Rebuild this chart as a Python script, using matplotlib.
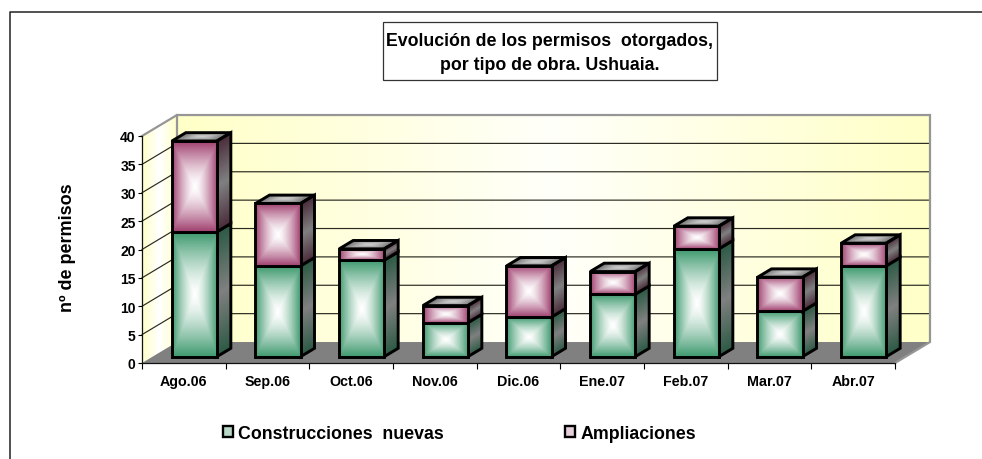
import numpy as np
import matplotlib
matplotlib.use('Agg')
from matplotlib import pyplot as plt
from matplotlib.patches import Polygon, Rectangle
from matplotlib.transforms import Affine2D

meses = ['Ago.06', 'Sep.06', 'Oct.06', 'Nov.06', 'Dic.06', 'Ene.07', 'Feb.07', 'Mar.07', 'Abr.07']
nuevas = [22, 16, 17, 6, 7, 11, 19, 8, 16]
ampliaciones = [16, 11, 2, 3, 9, 4, 4, 6, 4]
yticks = [0, 5, 10, 15, 20, 25, 30, 35, 40]

W, H = 982, 460
# depth of the fake 3d box, in axis units
DX = 35 / 83.67
DY = 21 / 5.68
BAR_W = 0.538
D0, D1 = 0.3, 0.7

plt.rcParams['font.family'] = ['Liberation Sans', 'DejaVu Sans']
plt.rcParams['font.weight'] = 'bold'

fig = plt.figure(figsize=(W / 100, H / 100), dpi=100)
ax = fig.add_axes([142 / W, 1 - 364 / H, 753 / W, 227 / H])
ax.autoscale(False)
ax.set_xlim(0, len(meses))
ax.set_ylim(0, 40)
ax.patch.set_visible(False)


def px_box(x, y, w, h, **kw):
    fig.add_artist(Rectangle((x / W, 1 - (y + h) / H), w / W, h / H, transform=fig.transFigure, **kw))


def proj(x, y, d):
    return x + d * DX, y + d * DY


def face(p0, pu, pv, edge, center, mode='box', z=3):
    # gradient image mapped onto a parallelogram p0, p0+pu, p0+pv
    u, v = np.meshgrid(np.linspace(0, 1, 80), np.linspace(0, 1, 80))
    if mode == 'box':
        t = np.maximum(np.abs(2 * u - 1), np.abs(2 * v - 1)) ** 1.4
    elif mode == 'across':
        t = np.abs(2 * u - 1)
    else:
        t = np.abs(2 * v - 1)
    edge = np.array(matplotlib.colors.to_rgb(edge))
    center = np.array(matplotlib.colors.to_rgb(center))
    img = center + (edge - center) * t[..., None]
    img = np.dstack([img, np.ones(t.shape)])
    tr = Affine2D.from_values(pu[0], pu[1], pv[0], pv[1], p0[0], p0[1]) + ax.transData
    im = ax.imshow(img, extent=(0, 1, 0, 1), origin='lower', aspect='auto', interpolation='bilinear',
                   transform=tr, zorder=z)
    corners = [p0, (p0[0] + pu[0], p0[1] + pu[1]), (p0[0] + pu[0] + pv[0], p0[1] + pu[1] + pv[1]),
               (p0[0] + pv[0], p0[1] + pv[1])]
    im.set_clip_path(Polygon(corners, closed=True, transform=ax.transData))
    im.set_clip_box(fig.bbox)


def outline(points, z, lw=2.1, ec='black', fc='none'):
    ax.add_patch(Polygon(points, closed=True, fc=fc, ec=ec, lw=lw, clip_on=False, zorder=z, joinstyle='miter'))


def bar_segment(i, bottom, height, front_edge, side_edge, z, top=False):
    x0 = i + 0.5 - BAR_W / 2
    x1 = x0 + BAR_W
    fx, fy = proj(x0, bottom, D0)
    fx1, _ = proj(x1, bottom, D0)
    bd = (D1 - D0) * DX, (D1 - D0) * DY
    # side
    face((fx1, fy), bd, (0, height), side_edge, '#808080', 'along', z)
    outline([(fx1, fy), (fx1 + bd[0], fy + bd[1]), (fx1 + bd[0], fy + bd[1] + height), (fx1, fy + height)], z + 0.1)
    # top
    if top:
        face((fx, fy + height), (fx1 - fx, 0), bd, '#6a6a6a', '#cfcfcf', 'box', z)
        outline([(fx, fy + height), (fx1, fy + height), (fx1 + bd[0], fy + height + bd[1]),
                 (fx + bd[0], fy + height + bd[1])], z + 0.1)
    # front
    face((fx, fy), (fx1 - fx, 0), (0, height), front_edge, '#ffffff', 'box', z + 0.2)
    outline([(fx, fy), (fx1, fy), (fx1, fy + height), (fx, fy + height)], z + 0.3)


# walls and floor
n = len(meses)
face((DX, DY), (n, 0), (0, 40), '#ffffc8', '#fffffa', 'across', 1)
face((0, 0), (DX, DY), (0, 40), '#ffffc8', '#ffffff', 'across', 1)
ax.add_patch(Polygon([proj(0, 0, 0), proj(n, 0, 0), proj(n, 0, 1), proj(0, 0, 1)], closed=True,
                     fc='#808080', ec='none', clip_on=False, zorder=1.1))

for v in yticks[1:-1]:
    xs, ys = zip(proj(0, v, 0), proj(0, v, 1), proj(n, v, 1))
    ax.plot(xs, ys, color='#2a2a20', lw=0.85, clip_on=False, zorder=1.2, solid_joinstyle='miter')

# grey border of the walls
xs, ys = zip(proj(0, 40, 0), proj(0, 40, 1), proj(n, 40, 1), proj(n, 0, 1), proj(n, 0, 0))
ax.plot(xs, ys, color='#969696', lw=1.6, clip_on=False, zorder=1.3, solid_joinstyle='miter')
xs, ys = zip(proj(0, 40, 1), proj(0, 0, 1))
ax.plot(xs, ys, color='#969696', lw=1.6, clip_on=False, zorder=1.3)

for i in range(n):
    bar_segment(i, 0, nuevas[i], '#3f9a6f', '#2c5a45', 3)
    bar_segment(i, nuevas[i], ampliaciones[i], '#a0406f', '#4a2c3a', 4, top=True)

for s in ['top', 'right']:
    ax.spines[s].set_visible(False)
for s in ['left', 'bottom']:
    ax.spines[s].set_linewidth(0.9)
    ax.spines[s].set_color('#111111')

ax.set_yticks(yticks)
ax.set_xticks(range(n + 1))
ax.set_xticklabels([])
ax.set_xticks(np.arange(n) + 0.5, labels=meses, minor=True)
ax.tick_params(axis='x', which='major', length=4.5, width=0.8, direction='out')
ax.tick_params(axis='x', which='minor', length=0, labelsize=10.3, pad=8)
ax.tick_params(axis='y', length=3, width=0.8, labelsize=10, pad=1.5)

# outer frame: only top and left are visible
fig.add_artist(plt.Line2D([10 / W, 10 / W, 1], [0, 1 - 13 / H, 1 - 13 / H], color='#222222', lw=1.1))

# title box
px_box(383, 23, 334, 58, fc='white', ec='#333333', lw=0.9)
fig.text(550 / W, 1 - 42 / H, 'Evolución de los permisos  otorgados,', ha='center', va='center', fontsize=12.8)
fig.text(550 / W, 1 - 66 / H, 'por tipo de obra. Ushuaia.', ha='center', va='center', fontsize=12.8)

fig.text(68 / W, 1 - 248 / H, 'nº de permisos', rotation=90, ha='center', va='center', fontsize=13)

# legend
px_box(223, 427, 10, 11, fc='#b9d8c8', ec='black', lw=1.7)
fig.text(238 / W, 1 - 434.5 / H, 'Construcciones  nuevas', ha='left', va='center', fontsize=12.8)
px_box(565, 427, 10, 11, fc='#e5cfdb', ec='black', lw=1.7)
fig.text(581 / W, 1 - 434.5 / H, 'Ampliaciones', ha='left', va='center', fontsize=12.8)

fig.savefig('out.png', dpi=100)
plt.close(fig)
